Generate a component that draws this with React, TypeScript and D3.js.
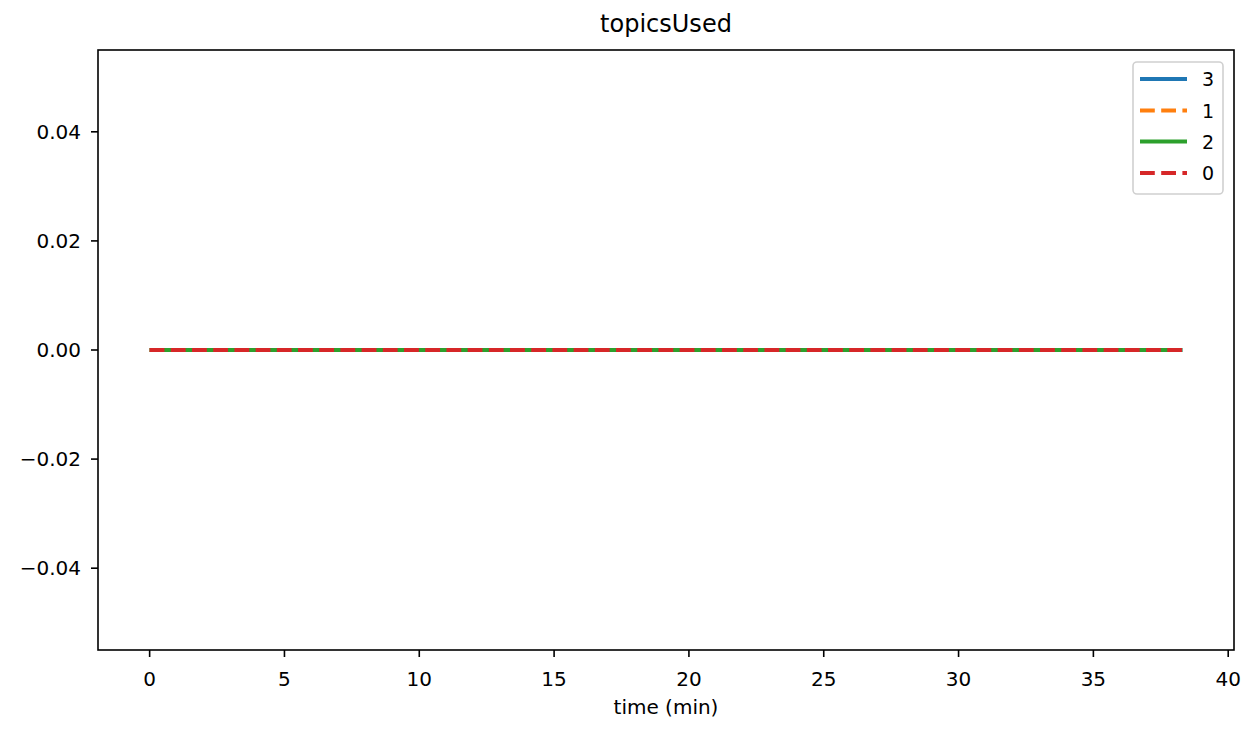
import React from "react";
import * as d3 from "d3";

const times = [0, 2, 4, 6, 8, 10, 12, 14, 16, 18, 20, 22, 24, 26, 28, 30, 32, 34, 36, 38, 38.3];
const series3 = [0, 0, 0, 0, 0, 0, 0, 0, 0, 0, 0, 0, 0, 0, 0, 0, 0, 0, 0, 0, 0];
const series1 = [0, 0, 0, 0, 0, 0, 0, 0, 0, 0, 0, 0, 0, 0, 0, 0, 0, 0, 0, 0, 0];
const series2 = [0, 0, 0, 0, 0, 0, 0, 0, 0, 0, 0, 0, 0, 0, 0, 0, 0, 0, 0, 0, 0];
const series0 = [0, 0, 0, 0, 0, 0, 0, 0, 0, 0, 0, 0, 0, 0, 0, 0, 0, 0, 0, 0, 0];
const seriesNames = ["3", "1", "2", "0"];
const xTicks = [0, 5, 10, 15, 20, 25, 30, 35, 40];
const yTicks = [-0.04, -0.02, 0, 0.02, 0.04];

const W = 1259, H = 735;
const L = 98, R = 1234, T = 50, B = 650;
const FONT = "DejaVu Sans, sans-serif";

export default function App() {
  const x = d3.scaleLinear().domain([-1.915, 40.215]).range([L, R]);
  const y = d3.scaleLinear().domain([-0.055, 0.055]).range([B, T]);
  const line = d3.line<number>().x((_, i) => x(times[i])).y((v) => y(v));
  const data = [series3, series1, series2, series0];
  const colors = ["#1f77b4", "#ff7f0e", "#2ca02c", "#d62728"];
  const dashes = [undefined, "14.8,6.4", undefined, "14.8,6.4"];
  const fmt = (v: number) => (v < 0 ? "\u2212" : "") + Math.abs(v).toFixed(2);
  const legY = [79, 110.5, 141.5, 173];
  return (
    <svg width={W} height={H} style={{ position: "absolute", left: 0, top: 0, background: "#fff" }} fontFamily={FONT}>
      <rect x={0} y={0} width={W} height={H} fill="#fff" />
      <text x={(L + R) / 2} y={32} textAnchor="middle" fontSize={24}>topicsUsed</text>
      {data.map((d, i) => (
        <path key={i} d={line(d) || ""} fill="none" stroke={colors[i]} strokeWidth={4} strokeDasharray={dashes[i]} />
      ))}
      <rect x={L} y={T} width={R - L} height={B - T} fill="none" stroke="#000" strokeWidth={1.6} />
      {xTicks.map((t) => (
        <g key={t}>
          <line x1={x(t)} x2={x(t)} y1={B} y2={B + 7} stroke="#000" strokeWidth={1.6} />
          <text x={x(t)} y={686} textAnchor="middle" fontSize={20}>{t}</text>
        </g>
      ))}
      {yTicks.map((t) => (
        <g key={t}>
          <line x1={L - 7} x2={L} y1={y(t)} y2={y(t)} stroke="#000" strokeWidth={1.6} />
          <text x={81} y={y(t) + 7} textAnchor="end" fontSize={20}>{fmt(t)}</text>
        </g>
      ))}
      <text x={(L + R) / 2} y={714} textAnchor="middle" fontSize={20}>time (min)</text>
      <rect x={1133} y={62} width={90} height={132} rx={4} fill="#fff" fillOpacity={0.8} stroke="#d0d0d0" strokeWidth={1.6} />
      {seriesNames.map((n, i) => (
        <g key={n}>
          <line x1={1140} x2={1187} y1={legY[i]} y2={legY[i]} stroke={colors[i]} strokeWidth={4} strokeDasharray={dashes[i]} />
          <text x={1202} y={legY[i] + 7} fontSize={19}>{n}</text>
        </g>
      ))}
    </svg>
  );
}
